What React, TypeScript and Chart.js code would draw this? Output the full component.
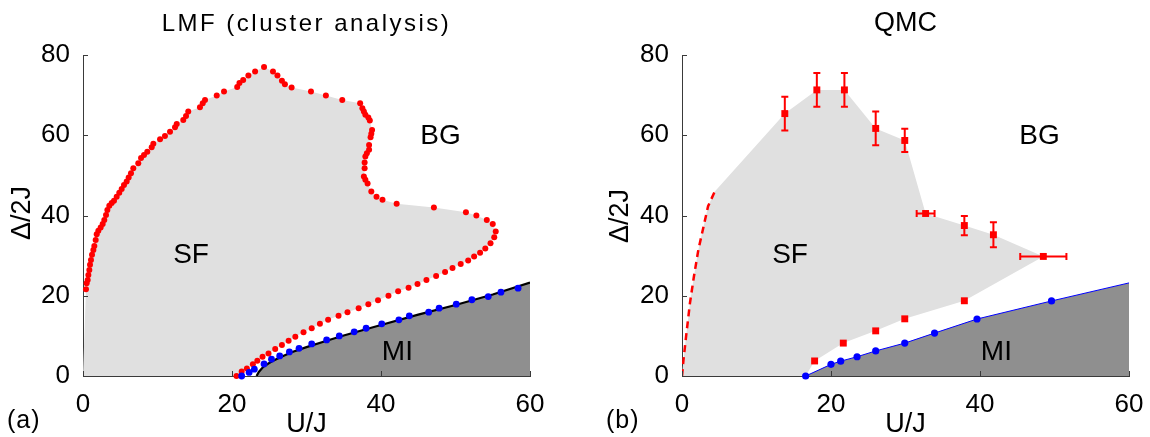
import { useEffect, useRef } from 'react';
import { Chart, registerables } from 'chart.js';

Chart.register(...registerables);

const FONT = "'Liberation Sans', Arial, Helvetica, sans-serif";
const AXIS = '#3a3a3a';
const LIGHT = '#e0e0e0';
const DARK = '#8f8f8f';

const xTicks = [0, 20, 40, 60];
const yTicks = [0, 20, 40, 60, 80];

// (a) LMF: red boundary of the SF region, from the y axis over the top, round the nose and down
const lmfEdgeU = [
  0.4, 0.49, 0.63, 0.72, 0.85, 0.94, 1.07, 1.21, 1.39, 1.52, 1.7, 1.84, 2.06, 2.37, 2.64, 2.86,
  3.09, 3.27, 3.53, 3.85, 4.16, 4.52, 4.87, 5.19, 5.5, 5.86, 6.13, 6.44, 6.75, 7.42, 7.79, 8.19,
  8.63, 9.22, 9.44, 10.34, 11, 11.68, 12.35, 12.58, 13.46, 13.83, 14.13, 15.7, 16.07, 16.38, 17.95,
  18.93, 20.7, 21, 21.5, 22.2, 23.1, 24.3, 25.5, 26.1, 26.7, 27.1, 28, 30.6, 32.6, 34.8, 37.2, 37.5,
  37.7, 37.9, 38.3, 38.5, 38.8, 38.7, 38.6, 38.4, 38.4, 38.1, 37.9, 37.8, 37.8, 37.7, 37.9, 38.2,
  38.7, 39.4, 40.2, 42.1, 47.1, 51.4, 52.8, 54.2, 55, 55.4, 55.2, 54.7, 54, 53.3, 52.5, 51.7, 50.7,
  49.6, 48.6, 47.4, 46.1, 44.9, 43.7, 42.3, 41, 39.6, 38.3, 37, 35.5, 34.3, 32.9, 31.8, 30.7, 29.6,
  28.5, 27.6, 26.7, 25.8, 24.9, 24.1, 23.4, 22.8, 22, 21.3, 20.6,
];
const lmfEdgeD = [
  21.6, 23.1, 23.9, 25.2, 26.4, 27.7, 28.9, 30.2, 31.4, 32.4, 33.9, 35.3, 36.2, 37, 37.9, 38.9,
  40.1, 41.4, 42.4, 43.1, 43.7, 44.7, 45.7, 46.6, 47.6, 48.5, 49.5, 50.5, 51.8, 53, 54.3, 55.1,
  55.9, 57, 57.9, 59, 59.8, 60.9, 62, 62.8, 63.8, 64.8, 65.9, 67, 68, 68.8, 69.9,
  70.9, 72, 73, 73.8, 74.9, 75.9, 77, 75.9, 74.9, 73.6, 72.7, 71.9, 70.9, 69.9, 68.8, 68, 66.7,
  65.9, 65.1, 64.4, 63.7, 61.3, 60.4, 59.5, 57.6, 56.4, 55.5, 54.7, 53.2, 51.8, 49.7, 48.9, 48,
  46, 44.7, 43.9, 42.9, 42, 40.8, 40, 38.9, 37.9, 36, 34.6, 33.1, 31.8, 30.7, 29.8, 28.8, 27.9,
  26.9, 25.9, 24.9, 23.9, 22.9, 22, 21.1, 20, 18.9, 17.9, 16.9, 15.9, 15, 14, 13, 11.9, 10.9,
  9.8, 8.8, 7.7, 6.7, 5.6, 4.8, 3.8, 2.9, 1.9, 1.1, 0,
];
// (a) blue points on the Mott lobe edge
const lmfBlueU = [21.3, 22.3, 23, 24.3, 25.3, 26.4, 27.7, 29, 30.7, 32.7, 34.4, 36.4, 38, 40.1, 42.4, 43.8, 46.4, 47.8, 50.1, 52.2, 54.4, 56.1, 58.4];
const lmfBlueD = [0, 0.9, 1.7, 3, 4.2, 5, 6, 6.9, 8, 9, 10, 11, 11.9, 13, 14, 15, 15.9, 16.9, 17.9, 19, 19.8, 20.9, 21.9];
// (a) black line, edge of the MI region
const lmfMottU = [23.3, 23.6, 24.2, 25.3, 26.5, 28, 30, 32.7, 35, 40, 45, 50, 55, 60];
const lmfMottD = [0, 1, 2.3, 3.6, 4.7, 5.9, 7.2, 8.8, 10.1, 12.7, 15.3, 17.7, 20.3, 23.3];

// (b) QMC: red squares with error bars
const qmcU = [13.8, 18.1, 21.8, 26.0, 29.9, 32.7, 37.9, 41.8, 48.5];
const qmcD = [65.4, 71.3, 71.3, 61.7, 58.7, 40.5, 37.5, 35.2, 29.8];
const qmcErrD = [4.2, 4.2, 4.2, 4.2, 2.9, 0, 2.4, 3.1, 0];
const qmcErrU = [0, 0, 0, 0, 0, 1.2, 0, 0, 3.1];
// (b) lower red squares
const qmcLowU = [17.8, 21.65, 26.0, 29.9, 37.9];
const qmcLowD = [3.75, 8.2, 11.25, 14.25, 18.75];
// (b) dashed red curve near the y axis
const qmcDashU = [0, 0.2, 0.6, 1.07, 1.6, 2.2, 2.9, 3.5, 4.4];
const qmcDashD = [0, 4, 10.7, 18.2, 24.8, 31.5, 37.3, 42.3, 46];
// (b) blue points and line
const qmcBlueU = [16.6, 20, 21.3, 23.5, 26, 29.9, 33.9, 39.6, 49.6];
const qmcBlueD = [0, 2.9, 3.7, 4.8, 6.25, 8.2, 10.7, 14.2, 18.7];
const qmcLineU = [...qmcBlueU, 60];
const qmcLineD = [...qmcBlueD, 23.2];

// phase labels (same place in both panels)
const phaseNames = ['SF', 'BG', 'MI'];
const phaseU = [14.5, 48, 42.2];
const phaseD = [30, 59.8, 6];

const pts = (u: number[], d: number[]) => u.map((x, i) => ({ x, y: d[i] }));

type Txt = { text: string; x: number | 'mid'; y: number; size: number; rot?: boolean; spacing?: number; align?: CanvasTextAlign };

const decorPlugin = (texts: Txt[]) => ({
  id: 'decor',
  afterDatasetsDraw(chart: any) {
    const { ctx, scales } = chart;
    ctx.save();
    ctx.fillStyle = '#000';
    ctx.font = `28px ${FONT}`;
    ctx.textAlign = 'center';
    ctx.textBaseline = 'middle';
    phaseNames.forEach((n, i) => {
      ctx.fillText(n, scales.x.getPixelForValue(phaseU[i]), scales.y.getPixelForValue(phaseD[i]));
    });
    ctx.restore();
  },
  afterDraw(chart: any) {
    const { ctx, chartArea: a, scales } = chart;
    const { x, y } = scales;
    ctx.save();
    ctx.strokeStyle = AXIS;
    ctx.lineWidth = 1;
    ctx.beginPath();
    x.ticks.forEach((t: any) => {
      const p = Math.round(x.getPixelForValue(t.value)) + 0.5;
      ctx.moveTo(p, a.bottom);
      ctx.lineTo(p, a.bottom - 5);
    });
    y.ticks.forEach((t: any) => {
      const p = Math.round(y.getPixelForValue(t.value)) + 0.5;
      ctx.moveTo(a.left, p);
      ctx.lineTo(a.left + 5, p);
    });
    ctx.stroke();
    ctx.fillStyle = '#000';
    texts.forEach((t) => {
      ctx.save();
      ctx.font = `${t.size}px ${FONT}`;
      (ctx as any).letterSpacing = `${t.spacing ?? 0}px`;
      const px = t.x === 'mid' ? (a.left + a.right) / 2 : t.x;
      if (t.rot) {
        ctx.translate(px, t.y);
        ctx.rotate(-Math.PI / 2);
        ctx.textAlign = 'center';
        ctx.textBaseline = 'middle';
        ctx.fillText(t.text, 0, 0);
      } else {
        ctx.textAlign = t.align ?? 'center';
        ctx.textBaseline = 'alphabetic';
        ctx.fillText(t.text, px, t.y);
      }
      ctx.restore();
    });
    ctx.restore();
  },
});

const errorBarPlugin = {
  id: 'errorBars',
  afterDatasetsDraw(chart: any) {
    const { ctx, scales } = chart;
    const { x, y } = scales;
    ctx.save();
    ctx.strokeStyle = '#ff0000';
    ctx.lineWidth = 2;
    ctx.beginPath();
    qmcU.forEach((u, i) => {
      const px = x.getPixelForValue(u);
      const py = y.getPixelForValue(qmcD[i]);
      if (qmcErrD[i] > 0) {
        const t = y.getPixelForValue(qmcD[i] + qmcErrD[i]);
        const b = y.getPixelForValue(qmcD[i] - qmcErrD[i]);
        ctx.moveTo(px, t); ctx.lineTo(px, b);
        ctx.moveTo(px - 3.5, t); ctx.lineTo(px + 3.5, t);
        ctx.moveTo(px - 3.5, b); ctx.lineTo(px + 3.5, b);
      }
      if (qmcErrU[i] > 0) {
        const l = x.getPixelForValue(u - qmcErrU[i]);
        const r = x.getPixelForValue(u + qmcErrU[i]);
        ctx.moveTo(l, py); ctx.lineTo(r, py);
        ctx.moveTo(l, py - 3.5); ctx.lineTo(l, py + 3.5);
        ctx.moveTo(r, py - 3.5); ctx.lineTo(r, py + 3.5);
      }
    });
    ctx.stroke();
    ctx.restore();
  },
};

const buildOptions = (axisW: number, padRight: number): any => ({
  responsive: false,
  animation: false,
  events: [],
  layout: { padding: { top: 55, right: padRight, left: 0, bottom: 0 } },
  plugins: { legend: { display: false }, tooltip: { enabled: false }, title: { display: false } },
  scales: {
    x: {
      type: 'linear',
      min: 0,
      max: 60,
      afterBuildTicks: (s: any) => { s.ticks = xTicks.map((v) => ({ value: v })); },
      afterFit: (s: any) => { s.height = 61; },
      grid: { display: false },
      border: { display: true, color: AXIS, width: 1 },
      ticks: { autoSkip: false, maxRotation: 0, padding: 5, color: '#000', font: { family: FONT, size: 26 } },
    },
    y: {
      type: 'linear',
      min: 0,
      max: 80,
      afterBuildTicks: (s: any) => { s.ticks = yTicks.map((v) => ({ value: v })); },
      afterFit: (s: any) => { s.width = axisW; },
      grid: { display: false },
      border: { display: true, color: AXIS, width: 1 },
      ticks: { autoSkip: false, padding: 5, color: '#000', font: { family: FONT, size: 26 } },
    },
  },
});

const dots = (data: any[], color: string, r: number, style = 'circle') => ({
  data,
  showLine: false,
  pointStyle: style,
  pointRadius: r,
  pointBorderWidth: 0,
  pointBackgroundColor: color,
  clip: 8,
});

const PanelA = () => {
  const ref = useRef<HTMLCanvasElement | null>(null);
  useEffect(() => {
    if (!ref.current) return;
    const chart = new Chart(ref.current, {
      type: 'scatter',
      data: {
        datasets: [
          dots(pts(lmfBlueU, lmfBlueD), '#0000ff', 3.4),
          dots(pts(lmfEdgeU, lmfEdgeD), '#ff0000', 3),
          {
            data: pts(lmfMottU, lmfMottD),
            showLine: true,
            borderColor: '#000',
            borderWidth: 2.2,
            backgroundColor: DARK,
            fill: 'origin',
            pointRadius: 0,
          },
          {
            data: [{ x: 0, y: 0 }, ...pts(lmfEdgeU, lmfEdgeD)],
            showLine: true,
            borderWidth: 0,
            borderColor: 'transparent',
            backgroundColor: LIGHT,
            fill: 'shape',
            pointRadius: 0,
          },
        ] as any,
      },
      options: buildOptions(83, 45),
      plugins: [
        decorPlugin([
          { text: 'LMF (cluster analysis)', x: 'mid', y: 31, size: 24, spacing: 2.5 },
          { text: 'U/J', x: 'mid', y: 432, size: 27 },
          { text: 'Δ/2J', x: 23, y: 213, size: 27, rot: true },
          { text: '(a)', x: 7, y: 428, size: 25, align: 'left', spacing: 1 },
        ]),
      ],
    });
    return () => chart.destroy();
  }, []);
  return <canvas ref={ref} width={575} height={437} style={{ position: 'absolute', left: 0, top: 0 }} />;
};

const PanelB = () => {
  const ref = useRef<HTMLCanvasElement | null>(null);
  useEffect(() => {
    if (!ref.current) return;
    const shape = [
      ...pts(qmcDashU, qmcDashD),
      ...pts(qmcU, qmcD),
      ...pts(qmcLowU, qmcLowD).reverse(),
      { x: qmcBlueU[0], y: qmcBlueD[0] },
    ];
    const chart = new Chart(ref.current, {
      type: 'scatter',
      data: {
        datasets: [
          dots(pts(qmcLowU, qmcLowD), '#ff0000', 4.9, 'rect'),
          dots(pts(qmcU, qmcD), '#ff0000', 4.9, 'rect'),
          dots(pts(qmcBlueU, qmcBlueD), '#0000ff', 3.6),
          {
            data: pts(qmcDashU, qmcDashD),
            showLine: true,
            borderColor: '#ff0000',
            borderWidth: 2.5,
            borderDash: [7, 5],
            pointRadius: 0,
            fill: false,
          },
          {
            data: pts(qmcLineU, qmcLineD),
            showLine: true,
            borderColor: '#0000ff',
            borderWidth: 1,
            backgroundColor: DARK,
            fill: 'origin',
            pointRadius: 0,
          },
          {
            data: shape,
            showLine: true,
            borderWidth: 0,
            borderColor: 'transparent',
            backgroundColor: LIGHT,
            fill: 'shape',
            pointRadius: 0,
          },
        ] as any,
      },
      options: buildOptions(107, 21),
      plugins: [
        errorBarPlugin,
        decorPlugin([
          { text: 'QMC', x: 'mid', y: 31, size: 27 },
          { text: 'U/J', x: 'mid', y: 432, size: 27 },
          { text: 'Δ/2J', x: 46, y: 216, size: 27, rot: true },
          { text: '(b)', x: 31, y: 428, size: 25, align: 'left', spacing: 1 },
        ]),
      ],
    });
    return () => chart.destroy();
  }, []);
  return <canvas ref={ref} width={575} height={437} style={{ position: 'absolute', left: 575, top: 0 }} />;
};

export default function App() {
  return (
    <div style={{ position: 'fixed', left: 0, top: 0, width: 1150, height: 437, background: '#fff', overflow: 'hidden' }}>
      <PanelA />
      <PanelB />
    </div>
  );
}
